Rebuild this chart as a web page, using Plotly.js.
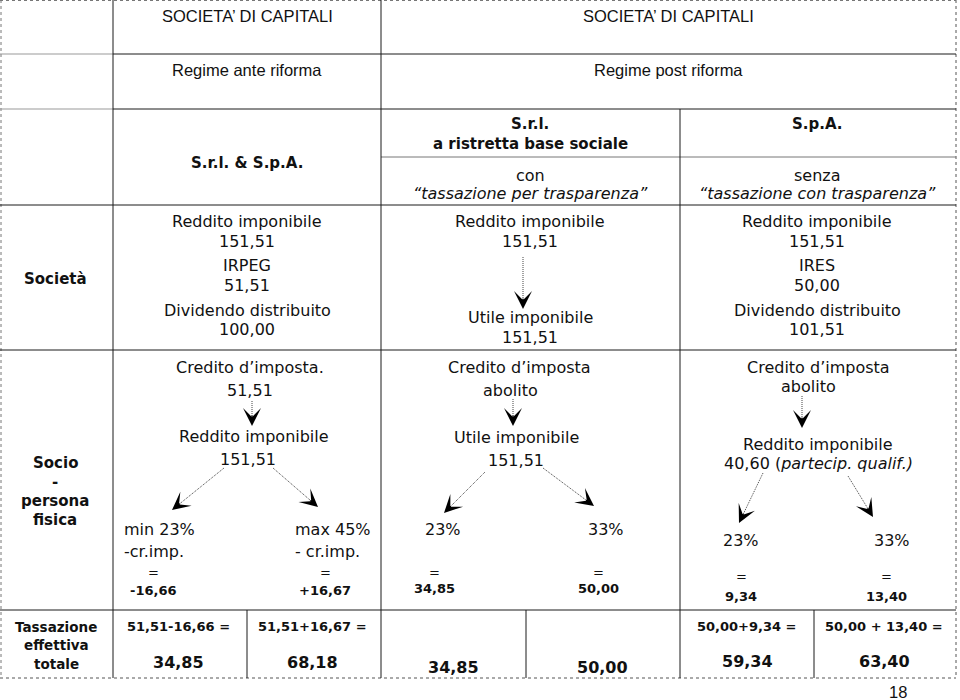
<!DOCTYPE html>
<html>
<head>
<meta charset="utf-8">
<script src="https://cdn.plot.ly/plotly-3.0.1.min.js"></script>
<style>html,body{margin:0;padding:0;background:#fff;}#chart{width:960px;height:700px;}</style>
</head>
<body>
<div id="chart"></div>
<script>
// ---------- DATA (texts of the table) ----------
const headerTitles = ['SOCIETA’ DI CAPITALI', 'SOCIETA’ DI CAPITALI'];
const regimes = ['Regime ante riforma', 'Regime post riforma'];
const entityTypes = ['S.r.l. & S.p.A.', 'S.r.l.', 'a ristretta base sociale', 'S.p.A.'];
const transparency = ['con', '“tassazione per trasparenza”', 'senza', '“tassazione con trasparenza”'];
const rowLabels = ['Società', 'Socio', '-', 'persona', 'fisica', 'Tassazione', 'effettiva', 'totale'];
const societaAnte = ['Reddito imponibile', '151,51', 'IRPEG', '51,51', 'Dividendo distribuito', '100,00'];
const societaSrl = ['Reddito imponibile', '151,51', 'Utile imponibile', '151,51'];
const societaSpa = ['Reddito imponibile', '151,51', 'IRES', '50,00', 'Dividendo distribuito', '101,51'];
const creditLines = ['Credito d’imposta.', '51,51', 'Credito d’imposta', 'abolito', 'Credito d’imposta', 'abolito'];
const socioBase = ['Reddito imponibile', '151,51', 'Utile imponibile', '151,51', 'Reddito imponibile', '40,60 (<i>partecip. qualif.)</i>'];
const socioRates = ['min 23%', 'max 45%', '23%', '33%', '23%', '33%'];
const socioCredit = ['-cr.imp.', '- cr.imp.'];
const socioTax = ['-16,66', '+16,67', '34,85', '50,00', '9,34', '13,40'];
const totalFormula = ['51,51-16,66 =', '51,51+16,67 =', '', '', '50,00+9,34 =', '50,00 + 13,40 ='];
const totalValues = ['34,85', '68,18', '34,85', '50,00', '59,34', '63,40'];
const pageNumber = '18';

// ---------- STYLES ----------
const ARIAL = {family: 'Liberation Sans, Arial, sans-serif', size: 16.5, color: '#111'};
const VERD = {family: 'DejaVu Sans, Verdana, sans-serif', size: 16, color: '#111'};
const BOLD = {family: 'DejaVu Sans, Verdana, sans-serif', size: 15, color: '#111'};
const BOLDS = {family: 'DejaVu Sans, Verdana, sans-serif', size: 13, color: '#111'};
const BOLDM = {family: 'DejaVu Sans, Verdana, sans-serif', size: 13.5, color: '#111'};
const BOLDL = {family: 'DejaVu Sans, Verdana, sans-serif', size: 16, color: '#111'};

const ann = [];
function T(text, x, y, font, align) {
  ann.push({text: text, x: x, y: y, xref: 'x', yref: 'y', showarrow: false,
    xanchor: align || 'center', yanchor: 'middle', font: font});
}
function B(s) { return s ? '<b>' + s + '</b>' : ''; }

// header
[247, 668].forEach((x, i) => T(headerTitles[i], x, 16, ARIAL));
[247, 668].forEach((x, i) => T(regimes[i], x, 70, ARIAL));
T(B(entityTypes[0]), 247, 163, BOLD);
T(B(entityTypes[1]), 530, 124, BOLD);
T(B(entityTypes[2]), 530, 144, BOLD);
T(B(entityTypes[3]), 817, 124, BOLD);
T(transparency[0], 530, 175, VERD);
T('<i>' + transparency[1] + '</i>', 530, 193, VERD);
T(transparency[2], 817, 175, VERD);
T('<i>' + transparency[3] + '</i>', 817, 193, VERD);

// row labels
T(B(rowLabels[0]), 55, 279, BOLD);
[463, 482, 501, 520].forEach((y, i) => T(B(rowLabels[1 + i]), 55, y, BOLD));
[627, 645, 664].forEach((y, i) => T(B(rowLabels[5 + i]), 56, y, BOLDM));

// Società row
const socY = [221, 241, 265, 285, 310, 329];
societaAnte.forEach((s, i) => T(s, 247, socY[i], VERD));
societaSpa.forEach((s, i) => T(s, 817, socY[i], VERD));
[221, 241, 317, 337].forEach((y, i) => T(societaSrl[i], 530, y, VERD));

// credit lines
T(creditLines[0], 250, 367, VERD); T(creditLines[1], 250, 390, VERD);
T(creditLines[2], 519, 367, VERD); T(creditLines[3], 510, 390, VERD);
T(creditLines[4], 818, 367, VERD); T(creditLines[5], 808, 386, VERD);

// socio base
T(socioBase[0], 254, 436, VERD); T(socioBase[1], 248, 459, VERD);
T(socioBase[2], 516, 437, VERD); T(socioBase[3], 516, 460, VERD);
T(socioBase[4], 818, 444, VERD); T(socioBase[5], 818, 463, VERD);

// rates
T(socioRates[0], 122, 529, VERD, 'left');
T(socioRates[1], 293, 529, VERD, 'left');
T(socioRates[2], 443, 529, VERD);
T(socioRates[3], 606, 529, VERD);
T(socioRates[4], 741, 540, VERD);
T(socioRates[5], 892, 540, VERD);
T(socioCredit[0], 122, 551, VERD, 'left');
T(socioCredit[1], 293, 551, VERD, 'left');

// equals + tax
const eqX = [153, 325, 434, 598, 741, 886];
const eqY = [572, 572, 572, 572, 576, 576];
const taxY = [590, 590, 588, 588, 596, 596];
socioTax.forEach((s, i) => {
  T('=', eqX[i], eqY[i], BOLDS);
  T(B(s), eqX[i], taxY[i], BOLDS);
});

// totals row
const totX = [178, 312, 453, 602, 747, 884];
const totY = [662, 662, 667, 667, 661, 661];
totalFormula.forEach((s, i) => { if (s) T(B(s), totX[i], 626, BOLDS); });
totalValues.forEach((s, i) => T(B(s), totX[i], totY[i], BOLDL));

T(pageNumber, 898, 692, ARIAL);

// ---------- GRID LINES ----------
const shapes = [];
function L(x0, y0, x1, y1, color, width, dash) {
  shapes.push({type: 'line', xref: 'x', yref: 'y', x0: x0, y0: y0, x1: x1, y1: y1,
    line: {color: color, width: width, dash: dash || 'solid'}});
}
const K = '#1a1a1a';
// outer
L(1, 0, 1, 678, '#777', 1, 'dot');
L(956, 0, 956, 678, '#555', 1, 'dot');
L(0, 0.5, 956, 0.5, '#777', 1, 'dot');
L(0, 678, 956, 678, '#555', 1, 'dot');
// horizontals
L(0, 54, 113, 54, '#999', 1);
L(0, 109, 113, 109, '#999', 1);
L(113, 54, 956, 54, K, 1);
L(113, 109, 956, 109, K, 1);
L(381, 157, 956, 157, '#777', 1);
L(0, 205, 956, 205, K, 1);
L(0, 350, 956, 350, K, 1);
L(0, 610, 956, 610, K, 1);
// verticals
L(113, 0, 113, 678, K, 1);
L(381, 0, 381, 678, K, 1);
L(680, 109, 680, 678, K, 1);
L(247, 610, 247, 678, K, 1);
L(526, 610, 526, 678, K, 1);
L(814, 610, 814, 678, K, 1);

// ---------- ARROWS (tail -> head) ----------
const arrows = [
  [252, 401, 252, 426], [224, 468, 172, 510], [273, 468, 318, 507],
  [523, 257, 523, 309],
  [513, 399, 513, 426], [485, 472, 444, 513], [543, 468, 594, 506],
  [802, 396, 802, 428], [763, 473, 739, 523], [848, 476, 873, 517]
];
arrows.forEach(a => {
  const [x0, y0, x1, y1] = a;
  const dx = x1 - x0, dy = y1 - y0, len = Math.hypot(dx, dy);
  L(x0, y0, x1 - dx / len * 8, y1 - dy / len * 8, '#444', 1, '1px,1px');
  ann.push({text: '', x: x1, y: y1, xref: 'x', yref: 'y', axref: 'x', ayref: 'y',
    ax: x1 - dx / len * 12, ay: y1 - dy / len * 12, showarrow: true,
    arrowhead: 3, arrowsize: 3, arrowwidth: 1, arrowcolor: '#000', standoff: 0});
});

const layout = {
  width: 960, height: 700,
  margin: {l: 0, r: 0, t: 0, b: 0},
  paper_bgcolor: '#fff', plot_bgcolor: '#fff',
  xaxis: {range: [0, 960], visible: false, fixedrange: true},
  yaxis: {range: [700, 0], visible: false, fixedrange: true},
  showlegend: false,
  shapes: shapes,
  annotations: ann
};
Plotly.newPlot('chart', [], layout, {staticPlot: true, displayModeBar: false});
</script>
</body>
</html>
